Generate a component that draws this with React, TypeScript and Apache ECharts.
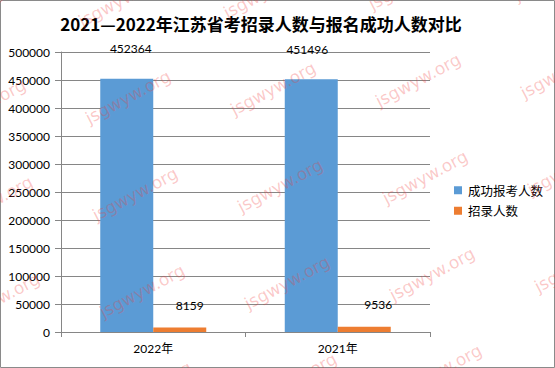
import React, { useEffect, useRef } from "react";
import * as echarts from "echarts";

const categories = ["2022年", "2021年"];
const seriesNames = ["成功报考人数", "招录人数"];
const applicants = [452364, 451496];
const admitted = [8159, 9536];
const yTicks = { min: 0, max: 500000, interval: 50000 };
const titleText = "2021—2022年江苏省考招录人数与报名成功人数对比";
const watermarkText = "jsgwyw.org";

export default function App() {
  const ref = useRef<HTMLDivElement>(null);
  useEffect(() => {
    if (!ref.current) return;
    const chart = echarts.init(ref.current, undefined, { renderer: "svg" });

    const marks: any[] = [];
    for (let i = -1; i <= 4; i++) {
      for (let j = -1; j <= 4; j++) {
        const x = 128 + i * 145 + j * 7;
        const y = 97 + j * 97 - i * 8.5;
        if (x < -60 || x > 615 || y < -40 || y > 410) continue;
        marks.push({
          type: "text",
          x,
          y,
          rotation: 0.49,
          z: 100,
          silent: true,
          style: {
            text: watermarkText,
            fill: "rgba(240,60,60,0.28)",
            font: "17px 'DejaVu Sans'",
            align: "center",
            verticalAlign: "middle",
          },
        });
      }
    }

    const blueOffsets = [[4, -19], [-4, -19]];
    const orangeOffsets = [[10, -11], [14, -11]];

    chart.setOption({
      animation: false,
      textStyle: { fontFamily: "Lato, 'Noto Sans CJK SC', sans-serif" },
      graphic: [
        {
          type: "rect",
          shape: { x: 0.5, y: 0.5, width: 554, height: 367 },
          style: { fill: "none", stroke: "#8a8a8a", lineWidth: 1 },
          z: 0,
          silent: true,
        },
        {
          type: "text",
          x: 261,
          y: 23,
          style: {
            text: titleText,
            font: "bold 17px 'Noto Sans CJK SC'",
            fill: "#000",
            align: "center",
            verticalAlign: "middle",
          },
        },
        ...marks,
      ],
      grid: { left: 61, right: 125, top: 52, bottom: 36, containLabel: false },
      legend: {
        orient: "vertical",
        left: 449,
        top: 179,
        itemWidth: 8,
        itemHeight: 8,
        itemGap: 8,
        icon: "rect",
        textStyle: {
          fontFamily: "'Noto Sans CJK SC'",
          fontSize: 12.5,
          color: "#000",
          padding: [0, 0, 0, 1],
        },
        data: seriesNames,
      },
      xAxis: {
        type: "category",
        data: categories,
        axisLine: { lineStyle: { color: "#868686" } },
        axisTick: { show: true, length: 5, lineStyle: { color: "#868686" } },
        axisLabel: {
          margin: 10,
          color: "#000",
          fontSize: 12,
          fontFamily: "Lato, 'Noto Sans CJK SC'",
        },
      },
      yAxis: {
        type: "value",
        min: yTicks.min,
        max: yTicks.max,
        interval: yTicks.interval,
        axisLine: { show: true, lineStyle: { color: "#868686" } },
        axisTick: { show: true, length: 6, lineStyle: { color: "#868686" } },
        splitLine: { lineStyle: { color: "#868686" } },
        axisLabel: {
          margin: 11,
          color: "#000",
          fontSize: 12,
          fontFamily: "Lato",
          formatter: (v: number) => String(v),
        },
      },
      series: [
        {
          name: seriesNames[0],
          type: "bar",
          barWidth: 53,
          barGap: "0%",
          itemStyle: { color: "#5B9BD5" },
          data: applicants.map((v, k) => ({
            value: v,
            label: {
              show: true,
              position: "top",
              offset: blueOffsets[k],
              color: "#000",
              fontSize: 12,
              fontFamily: "Lato",
            },
          })),
        },
        {
          name: seriesNames[1],
          type: "bar",
          barWidth: 53,
          barGap: "0%",
          itemStyle: { color: "#ED7D31" },
          data: admitted.map((v, k) => ({
            value: v,
            label: {
              show: true,
              position: "top",
              offset: orangeOffsets[k],
              color: "#000",
              fontSize: 12,
              fontFamily: "Lato",
            },
          })),
        },
      ],
    });
    return () => chart.dispose();
  }, []);
  return (
    <div
      ref={ref}
      style={{ position: "fixed", left: 0, top: 0, width: 555, height: 368, background: "#fff" }}
    />
  );
}
